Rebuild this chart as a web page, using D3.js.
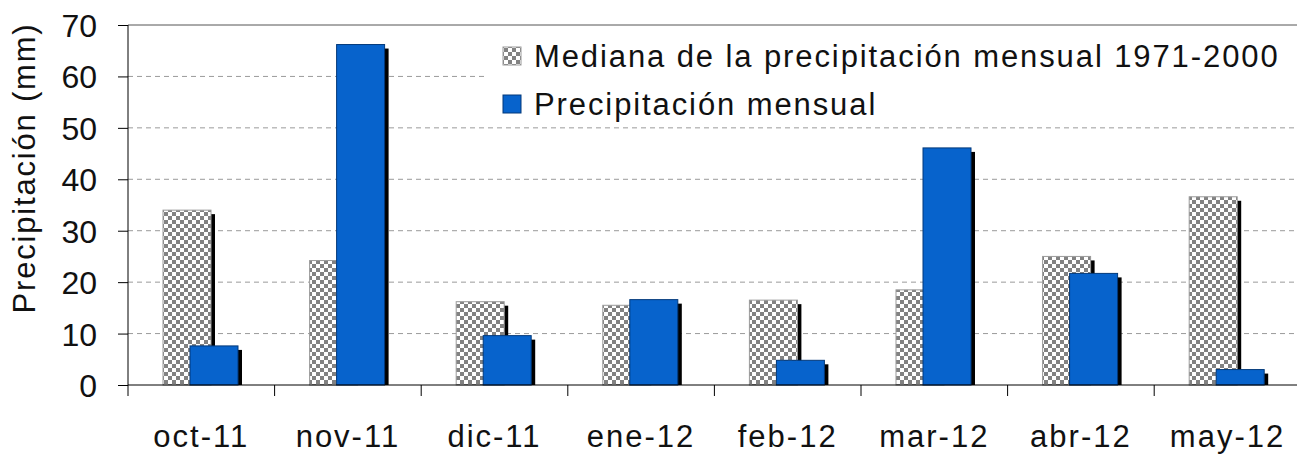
<!DOCTYPE html>
<html>
<head>
<meta charset="utf-8">
<script src="https://cdn.jsdelivr.net/npm/d3@7"></script>
<style>
  html, body { margin: 0; padding: 0; background: #fff; }
  svg { display: block; font-family: "Liberation Sans", Arial, sans-serif; }
</style>
</head>
<body>
<svg id="chart" width="1297" height="455"></svg>
<script>
// monthly precipitation vs 1971-2000 median
const months = ["oct-11", "nov-11", "dic-11", "ene-12", "feb-12", "mar-12", "abr-12", "may-12"];
const medianValues = [34, 24.2, 16.2, 15.5, 16.5, 18.5, 25, 36.6];
const monthlyValues = [7.6, 66.2, 9.6, 16.6, 4.8, 46.1, 21.7, 3];
const yTicks = [0, 10, 20, 30, 40, 50, 60, 70];
const seriesNames = ["Mediana de la precipitación mensual 1971-2000", "Precipitación mensual"];

(function () {
    const svg = d3.select("#chart");

    const margin = {top: 25, left: 128, bottom: 70};
    const step = 146.6;
    const plotBottom = 455 - margin.bottom;

    const x = d3.scaleBand().domain(months).range([margin.left, margin.left + step * months.length]).padding(0);
    const y = d3.scaleLinear().domain([0, 70]).range([plotBottom, margin.top]);

    const barW = 48;
    const medianOffset = 35;
    const monthlyOffset = 62;

    const defs = svg.append("defs");
    const pat = defs.append("pattern")
        .attr("id", "checker")
        .attr("width", 8).attr("height", 8)
        .attr("patternUnits", "userSpaceOnUse");
    pat.append("rect").attr("width", 8).attr("height", 8).attr("fill", "#ffffff");
    pat.append("rect").attr("width", 4).attr("height", 4).attr("fill", "#828282");
    pat.append("rect").attr("x", 4).attr("y", 4).attr("width", 4).attr("height", 4).attr("fill", "#828282");

    // gridlines
    svg.append("g").selectAll("line")
        .data(yTicks.filter(t => t > 0 && t < 70))
        .join("line")
        .attr("x1", margin.left).attr("x2", 1297)
        .attr("y1", d => y(d)).attr("y2", d => y(d))
        .attr("stroke", "#9a9a9a")
        .attr("stroke-dasharray", "5,4")
        .attr("stroke-width", 1);

    // top border line
    svg.append("line")
        .attr("x1", margin.left).attr("x2", 1297)
        .attr("y1", y(70)).attr("y2", y(70))
        .attr("stroke", "#555").attr("stroke-width", 1);

    // legend background
    svg.append("rect")
        .attr("x", 486).attr("y", 30).attr("width", 811).attr("height", 92)
        .attr("fill", "#fff");

    const data = months.map((m, i) => ({month: m, median: medianValues[i], monthly: monthlyValues[i]}));

    const drawBars = (key, offset, fill, stroke) => {
        const g = svg.append("g");
        g.selectAll(".shadow")
            .data(data)
            .join("rect")
            .attr("x", d => x(d.month) + offset + 4)
            .attr("y", d => y(d[key]) + 4)
            .attr("width", barW)
            .attr("height", d => Math.max(0, plotBottom - y(d[key]) - 4))
            .attr("fill", "#000");
        g.selectAll(".bar")
            .data(data)
            .join("rect")
            .attr("x", d => x(d.month) + offset)
            .attr("y", d => y(d[key]))
            .attr("width", barW)
            .attr("height", d => plotBottom - y(d[key]))
            .attr("fill", fill)
            .attr("stroke", stroke)
            .attr("stroke-width", 1);
    };
    drawBars("median", medianOffset, "url(#checker)", "#9a9a9a");
    drawBars("monthly", monthlyOffset, "#0763cc", "#03397a");

    // y axis
    const yAxis = svg.append("g")
        .attr("transform", `translate(${margin.left},0)`)
        .call(d3.axisLeft(y).tickValues(yTicks).tickSize(10).tickPadding(21));
    yAxis.select(".domain").attr("d", `M0,${y(70)}V${plotBottom}`).attr("stroke", "#000");
    yAxis.selectAll(".tick line").attr("stroke", "#000");
    yAxis.selectAll("text")
        .attr("font-size", 32)
        .attr("font-family", "Liberation Sans, Arial, sans-serif")
        .attr("fill", "#111")
        .attr("dy", "0.36em");

    // x axis
    const xAxis = svg.append("g")
        .attr("transform", `translate(0,${plotBottom})`);
    xAxis.append("line")
        .attr("x1", margin.left).attr("x2", 1297)
        .attr("y1", 0).attr("y2", 0)
        .attr("stroke", "#000");
    xAxis.selectAll(".xtick")
        .data(months)
        .join("line")
        .attr("x1", d => x(d)).attr("x2", d => x(d))
        .attr("y1", 0).attr("y2", 11)
        .attr("stroke", "#000");
    xAxis.selectAll(".xlabel")
        .data(months)
        .join("text")
        .attr("x", d => x(d) + x.bandwidth() / 2)
        .attr("y", 62)
        .attr("text-anchor", "middle")
        .attr("font-size", 31)
        .attr("letter-spacing", 2)
        .attr("fill", "#111")
        .text(d => d);

    // y title
    svg.append("text")
        .attr("transform", `translate(35,168) rotate(-90)`)
        .attr("text-anchor", "middle")
        .attr("font-size", 31)
        .attr("letter-spacing", 1.8)
        .attr("fill", "#111")
        .text("Precipitación (mm)");

    // legend
    const legend = svg.append("g");
    const swatches = ["url(#checker)", "#0763cc"];
    const strokes = ["#9a9a9a", "#03397a"];
    seriesNames.forEach((name, i) => {
        const ly = 56 + i * 48;
        legend.append("rect")
            .attr("x", 503).attr("y", ly - 9)
            .attr("width", 18).attr("height", 18)
            .attr("fill", swatches[i])
            .attr("stroke", strokes[i]);
        legend.append("text")
            .attr("x", 534).attr("y", ly)
            .attr("dy", "0.36em")
            .attr("font-size", 31)
            .attr("letter-spacing", 1.9)
            .attr("fill", "#111")
            .text(name);
    });
})();
</script>
</body>
</html>
